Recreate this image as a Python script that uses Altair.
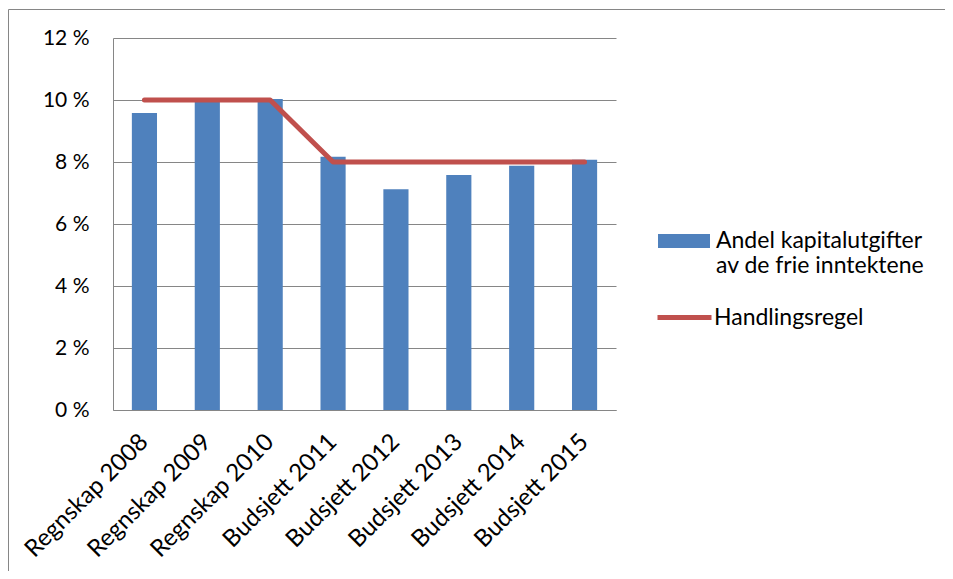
import altair as alt
import pandas as pd

categories = ["Regnskap 2008", "Regnskap 2009", "Regnskap 2010", "Budsjett 2011",
              "Budsjett 2012", "Budsjett 2013", "Budsjett 2014", "Budsjett 2015"]
andel = [9.58, 10.0, 10.03, 8.17, 7.12, 7.58, 7.88, 8.07]
regel = [10, 10, 10, 8, 8, 8, 8, 8]
bar_name = "Andel kapitalutgifter|av de frie inntektene"
line_name = "Handlingsregel"
y_ticks = [0, 2, 4, 6, 8, 10, 12]

df = pd.DataFrame({"kategori": categories, "andel": andel, "regel": regel,
                   "s1": bar_name, "s2": line_name})

FONT = "Lato"
GRID = "#868686"

x = alt.X("kategori:N", sort=categories, title=None,
          scale=alt.Scale(paddingInner=0.6, paddingOuter=0.3),
          axis=alt.Axis(labelAngle=-45, labelAlign="right", labelBaseline="middle",
                        ticks=False, domainColor=GRID, labelFontSize=24, labelFont=FONT,
                        labelColor="#000000", labelPadding=28, labelOffset=0,
                        grid=False))
y_scale = alt.Scale(domain=[0, 12], nice=False)

bars = alt.Chart(df).mark_bar().encode(
    x=x,
    y=alt.Y("andel:Q", scale=y_scale, title=None,
            axis=alt.Axis(values=y_ticks, labelExpr="datum.value + ' %'", ticks=False,
                          domainColor=GRID, gridColor=GRID, labelFontSize=21,
                          labelFont=FONT, labelColor="#000000", labelPadding=24)),
    fill=alt.Fill("s1:N", scale=alt.Scale(range=["#4F81BD"]),
                  legend=alt.Legend(title=None, orient="none", legendX=545, legendY=177,
                                    symbolType="M-1,-0.27L1,-0.27L1,0.27L-1,0.27Z",
                                    symbolSize=2704, symbolStrokeWidth=0,
                                    labelExpr="split(datum.label, '|')",
                                    labelFont=FONT, labelFontSize=23, labelColor="#000000",
                                    labelOffset=6, labelLimit=400)),
)

line = alt.Chart(df).mark_line(strokeWidth=5, strokeCap="round", strokeJoin="round").encode(
    x=x,
    y=alt.Y("regel:Q", scale=y_scale),
    stroke=alt.Stroke("s2:N", scale=alt.Scale(range=["#C0504D"]),
                      legend=alt.Legend(title=None, orient="none", legendX=542, legendY=250,
                                        symbolType="stroke", symbolSize=2916,
                                        symbolStrokeWidth=5,
                                        labelFont=FONT, labelFontSize=23, labelColor="#000000",
                                        labelOffset=0, labelLimit=400)),
)

border = alt.Chart(alt.Data(values=[{}])).mark_rect(
    fill=None, stroke=GRID, strokeWidth=1
).encode(x=alt.value(-104.5), x2=alt.value(1500), y=alt.value(-28.5), y2=alt.value(1500))

chart = alt.layer(border, bars, line).resolve_scale(fill="independent", stroke="independent").properties(
    width=503, height=372,
    padding={"left": 105, "top": 30, "right": 329, "bottom": 161},
    autosize=alt.AutoSizeParams(type="none"),
).configure_view(stroke=None)

chart.save("out.html", embed_options={"renderer": "svg", "actions": False})
